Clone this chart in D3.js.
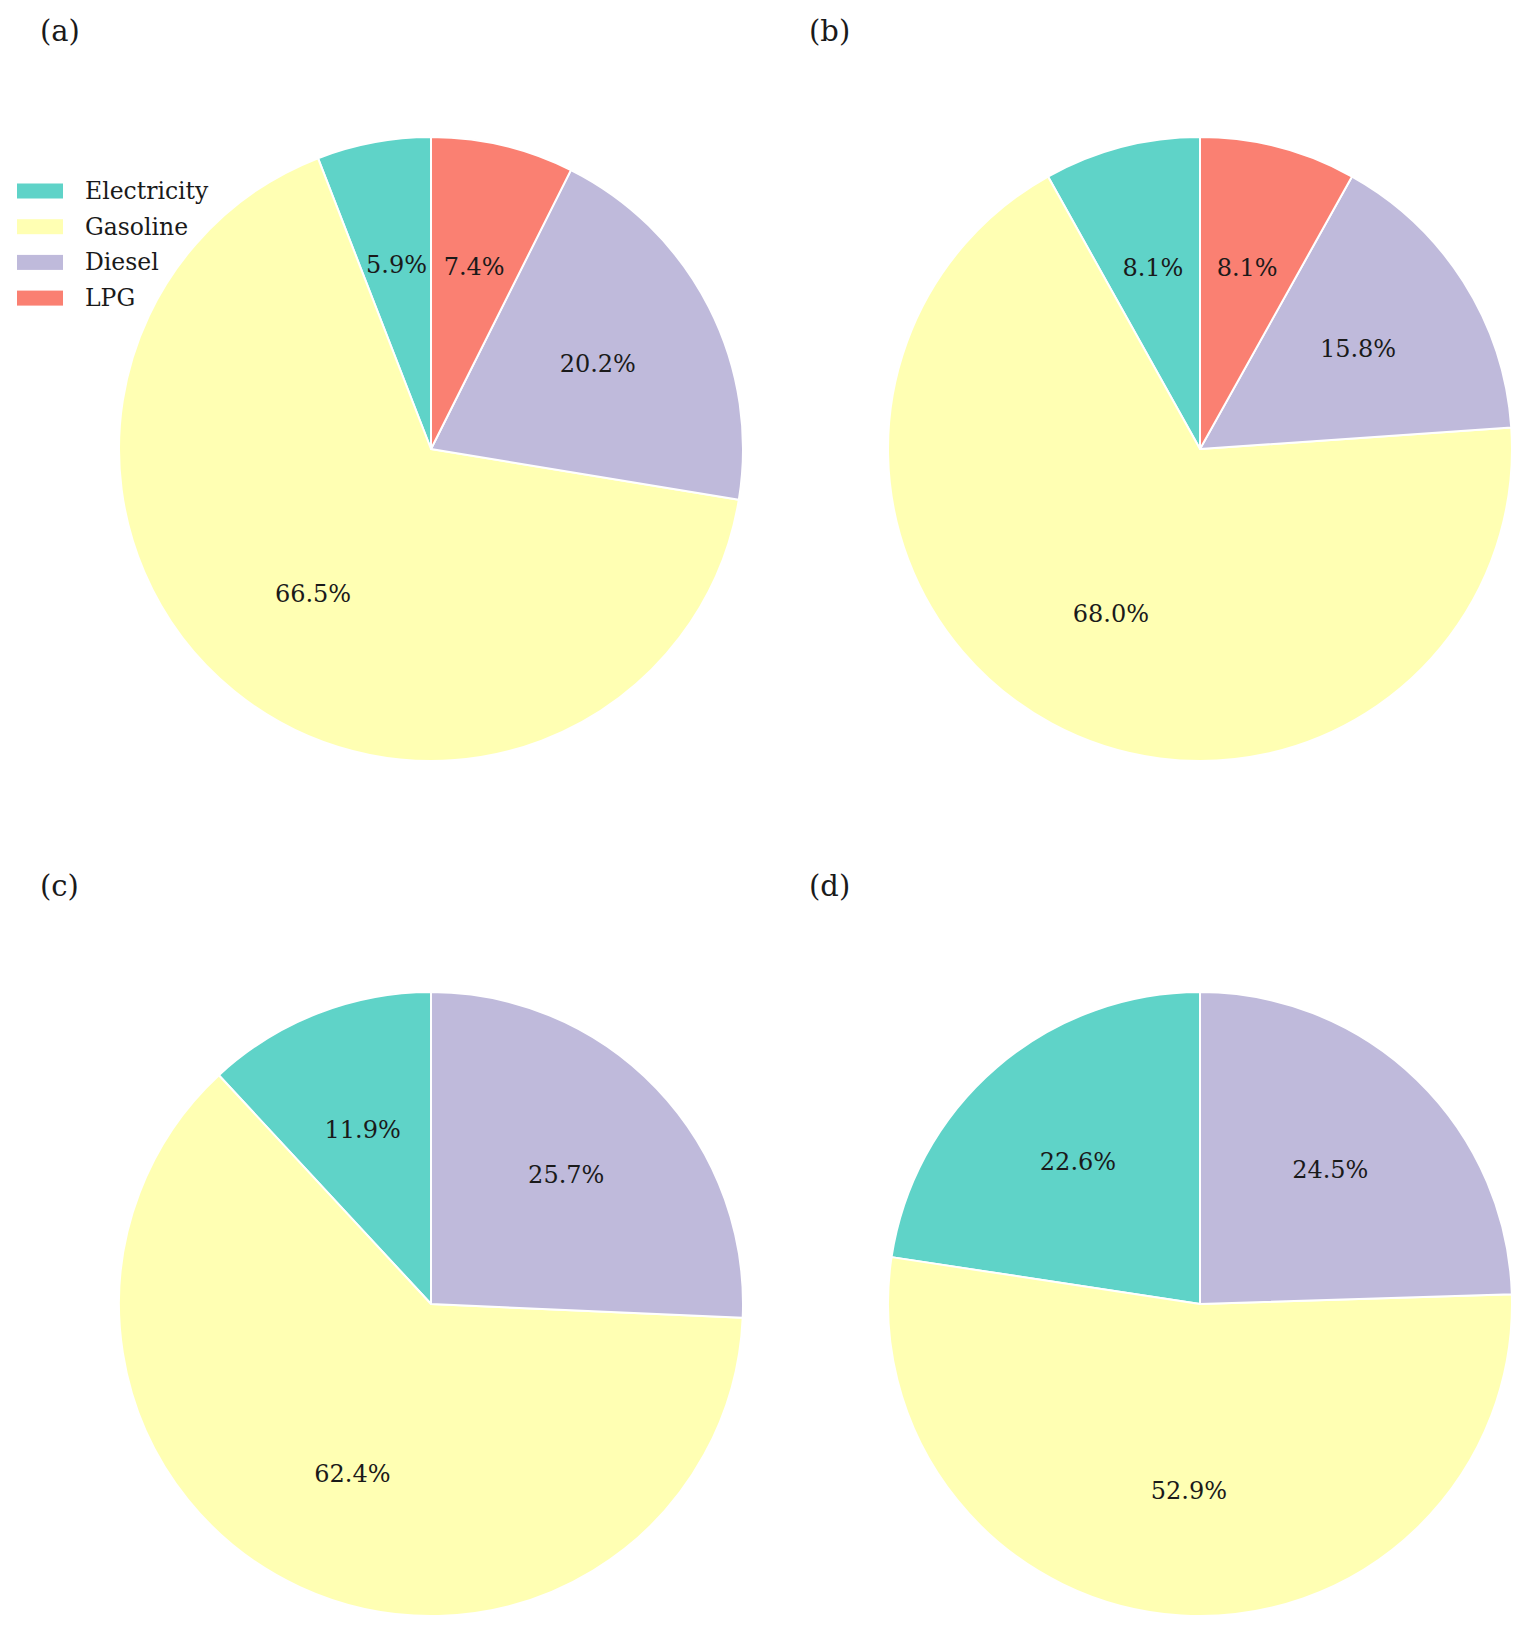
<!DOCTYPE html>
<html>
<head>
<meta charset="utf-8">
<script src="https://cdn.jsdelivr.net/npm/d3@7"></script>
<style>
  html, body { margin: 0; padding: 0; background: #ffffff; }
  svg { display: block; }
  text { font-family: "DejaVu Serif", serif; fill: #1a1a1a; }
</style>
</head>
<body>
<div id="chart"></div>
<script>
// Fuel type shares per panel (percent)
const categories = ["Electricity", "Gasoline", "Diesel", "LPG"]
const panelLabels = ["(a)", "(b)", "(c)", "(d)"]
const sharesA = [5.9, 66.5, 20.2, 7.4]
const sharesB = [8.1, 68.0, 15.8, 8.1]
const sharesC = [11.9, 62.4, 25.7, 0]
const sharesD = [22.6, 52.9, 24.5, 0]
const colors = ["#5fd3c8", "#ffffb3", "#bfbadb", "#fa8072"]

const panels = [sharesA, sharesB, sharesC, sharesD]

const width = 1528
const height = 1635
const radius = 312

const svg = d3.select("#chart")
  .append("svg")
  .attr("width", width)
  .attr("height", height)

const color = d3.scaleOrdinal()
  .domain(categories)
  .range(colors)

// Panel grid: centers of the pies
const col = d3.scaleOrdinal().domain([0, 1]).range([431, 1200])
const row = d3.scaleOrdinal().domain([0, 1]).range([449, 1304])

// Counter-clockwise from 12 o'clock, like matplotlib startangle=90
const pie = d3.pie()
  .sort(null)
  .startAngle(0)
  .endAngle(-2 * Math.PI)
  .value(d => d.value)

const arc = d3.arc().innerRadius(0).outerRadius(radius)
const labelArc = d3.arc().innerRadius(radius * 0.6).outerRadius(radius * 0.6)

panels.forEach((shares, i) => {
  const cx = col(i % 2)
  const cy = row(Math.floor(i / 2))
  const data = categories.map((c, k) => ({ name: c, value: shares[k] }))
  const arcs = pie(data).filter(d => d.data.value > 0)

  // panel letter
  svg.append("text")
    .attr("x", cx - 391)
    .attr("y", cy - 408)
    .attr("font-size", 29)
    .text(panelLabels[i])

  const g = svg.append("g")
    .attr("transform", `translate(${cx},${cy})`)

  g.selectAll("path")
    .data(arcs)
    .enter()
    .append("path")
    .attr("d", arc)
    .attr("fill", d => color(d.data.name))
    .attr("stroke", "#ffffff")
    .attr("stroke-width", 2)
    .attr("stroke-linejoin", "round")

  g.selectAll(".pct")
    .data(arcs)
    .enter()
    .append("text")
    .attr("class", "pct")
    .attr("transform", d => `translate(${labelArc.centroid(d)})`)
    .attr("text-anchor", "middle")
    .attr("dominant-baseline", "central")
    .attr("font-size", 24)
    .text(d => d.data.value.toFixed(1) + "%")
})

// Legend only on panel (a)
const legend = svg.append("g")
  .attr("transform", "translate(17,191)")

const item = legend.selectAll(".item")
  .data(categories)
  .enter()
  .append("g")
  .attr("class", "item")
  .attr("transform", (d, i) => `translate(0,${i * 35.7})`)

item.append("rect")
  .attr("x", 0)
  .attr("y", -7.5)
  .attr("width", 46)
  .attr("height", 15)
  .attr("fill", d => color(d))

item.append("text")
  .attr("x", 68)
  .attr("y", 0)
  .attr("dominant-baseline", "central")
  .attr("font-size", 23.5)
  .text(d => d)
</script>
</body>
</html>
